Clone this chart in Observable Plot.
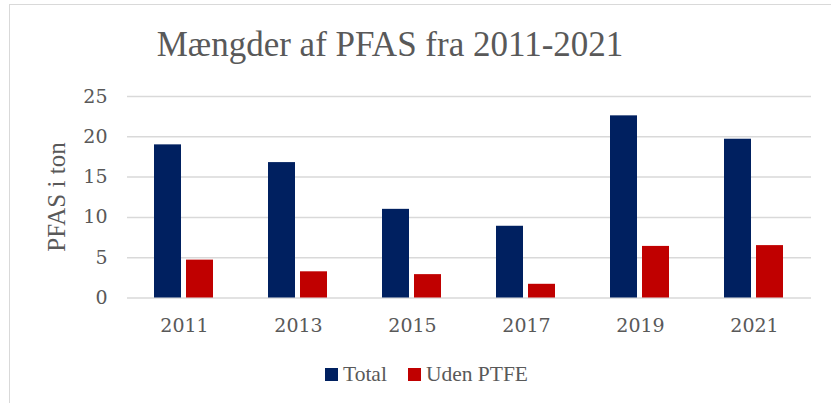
<!DOCTYPE html>
<html><head><meta charset="utf-8">
<script src="https://cdn.jsdelivr.net/npm/d3@7"></script>
<script src="https://cdn.jsdelivr.net/npm/@observablehq/plot@0.6"></script>
<style>
html,body{margin:0;padding:0;background:#fff;width:831px;height:403px;overflow:hidden;position:relative}
#frame{position:absolute;left:9px;top:4px;width:840px;height:420px;border-left:1px solid #d9d9d9;border-top:1px solid #d9d9d9;box-sizing:border-box}
#chart{position:absolute;left:0;top:0}
#chart svg, #chart svg text{font-family:"DejaVu Serif", serif !important}
#title{position:absolute;left:390px;top:26.7px;transform:translateX(-50%);font-family:"Liberation Serif","Times New Roman",serif;font-size:35px;line-height:1;color:#595959;white-space:nowrap}
#ylabel{position:absolute;left:56px;top:197.4px;transform:translate(-50%,-50%) rotate(-90deg);font-family:"Liberation Serif","Times New Roman",serif;font-size:25px;line-height:1;color:#595959;white-space:nowrap}
#legend{position:absolute;left:325px;top:363.5px;font-family:"Liberation Serif","Times New Roman",serif;font-size:21.5px;line-height:1;color:#595959;white-space:nowrap}
.sw{display:inline-block;width:13px;height:13px;margin-right:5px}
.item{display:inline-block;margin-right:21px}
</style>
</head><body>
<div id="frame"></div>
<div id="chart"></div>
<div id="title">Mængder af PFAS fra 2011-2021</div>
<div id="ylabel">PFAS i ton</div>
<div id="legend"></div>
<script>
const years = ["2011", "2013", "2015", "2017", "2019", "2021"];
const series = ["Total", "Uden PTFE"];
const total = [19.0, 16.8, 11.0, 8.9, 22.6, 19.7];
const udenPTFE = [4.7, 3.25, 2.9, 1.7, 6.4, 6.5];
const colors = ["#002060", "#C00000"];
const yTicks = [0, 5, 10, 15, 20, 25];

const rows = [];
years.forEach((year, i) => {
  rows.push({year, series: series[0], value: total[i]});
  rows.push({year, series: series[1], value: udenPTFE[i]});
});

const chart = Plot.plot({
  width: 831,
  height: 345,
  marginLeft: 124,
  marginRight: 18,
  marginTop: 96,
  marginBottom: 47.5,
  style: {fontFamily: "DejaVu Serif, serif", fontSize: "19px", color: "#595959", background: "transparent", overflow: "visible"},
  fx: {domain: years, padding: 0, label: null, tickSize: 0, tickPadding: 20, axis: "bottom"},
  x: {domain: series, axis: null, paddingInner: 0.153, paddingOuter: 0.837},
  y: {domain: [0, 25], ticks: yTicks, tickSize: 0, tickPadding: 20, label: null},
  color: {domain: series, range: colors},
  marks: [
    Plot.ruleY(yTicks, {stroke: "#d9d9d9", strokeWidth: 1.5}),
    Plot.barY(rows, {fx: "year", x: "series", y: "value", fill: "series"})
  ]
});
document.getElementById("chart").appendChild(chart);

const legend = document.getElementById("legend");
series.forEach((s, i) => {
  const item = document.createElement("span");
  item.className = "item";
  const sw = document.createElement("span");
  sw.className = "sw";
  sw.style.background = colors[i];
  item.appendChild(sw);
  item.appendChild(document.createTextNode(s));
  legend.appendChild(item);
});
</script>
</body></html>
